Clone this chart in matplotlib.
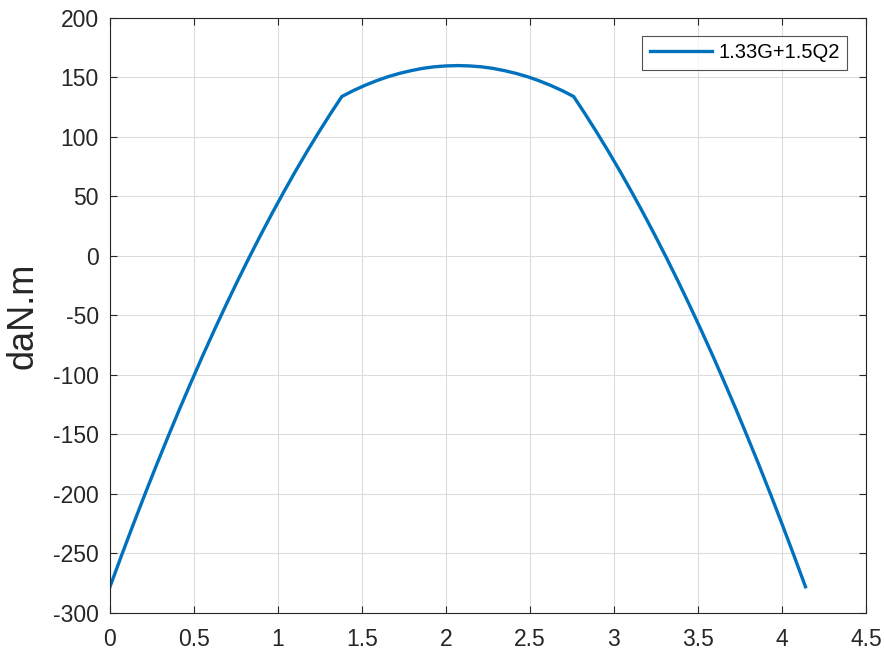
import matplotlib
matplotlib.use("Agg")
import matplotlib.pyplot as plt

# Bending moment along the beam, combination 1.33G+1.5Q2
x_m = [0.000, 0.069, 0.138, 0.207, 0.276, 0.345, 0.414, 0.483, 0.552, 0.621,
       0.690, 0.759, 0.828, 0.897, 0.966, 1.035, 1.104, 1.173, 1.242, 1.311,
       1.380, 1.449, 1.518, 1.587, 1.656, 1.725, 1.794, 1.863, 1.932, 2.001,
       2.070, 2.139, 2.208, 2.277, 2.346, 2.415, 2.484, 2.553, 2.622, 2.691,
       2.760, 2.829, 2.898, 2.967, 3.036, 3.105, 3.174, 3.243, 3.312, 3.381,
       3.450, 3.519, 3.588, 3.657, 3.726, 3.795, 3.864, 3.933, 4.002, 4.071,
       4.140]
moment = [-278.0, -251.6, -225.8, -200.6, -176.0, -152.1, -128.7, -106.0, -83.8, -62.3,
          -41.4, -21.1, -1.4, 17.6, 36.1, 53.9, 71.2, 87.8, 103.8, 119.2,
          134.0, 139.0, 143.4, 147.3, 150.7, 153.5, 155.8, 157.7, 159.0, 159.7,
          160.0, 159.7, 159.0, 157.7, 155.8, 153.5, 150.7, 147.3, 143.4, 139.0,
          134.0, 119.2, 103.8, 87.8, 71.2, 53.9, 36.1, 17.6, -1.4, -21.1,
          -41.4, -62.3, -83.8, -106.0, -128.7, -152.1, -176.0, -200.6, -225.8, -251.6,
          -278.0]
series_label = "1.33G+1.5Q2"
x_ticks = [0, 0.5, 1, 1.5, 2, 2.5, 3, 3.5, 4, 4.5]
x_tick_labels = ["0", "0.5", "1", "1.5", "2", "2.5", "3", "3.5", "4", "4.5"]
y_ticks = [-300, -250, -200, -150, -100, -50, 0, 50, 100, 150, 200]
y_tick_labels = ["-300", "-250", "-200", "-150", "-100", "-50", "0", "50", "100", "150", "200"]
y_label = "daN.m"

plt.rcParams["font.family"] = ["Liberation Sans", "DejaVu Sans"]

fig = plt.figure(figsize=(8.84, 6.51), dpi=100)
ax = fig.add_axes([0.1244, 0.0584, 0.8552, 0.914])

ax.plot(x_m, moment, color="#0072BD", lw=2.4, label=series_label,
        solid_joinstyle="miter")

ax.set_xlim(0, 4.5)
ax.set_ylim(-300, 200)
ax.set_xticks(x_ticks)
ax.set_xticklabels(x_tick_labels)
ax.set_yticks(y_ticks)
ax.set_yticklabels(y_tick_labels)

ax.grid(True, color="#dcdcdc", lw=0.8)
ax.set_axisbelow(True)
for s in ax.spines.values():
    s.set_color("#262626")
    s.set_linewidth(0.8)
ax.tick_params(direction="in", length=5, width=0.8, color="#262626",
               labelsize=16.5, labelcolor="#262626", top=True, right=True)
ax.tick_params(axis="x", pad=11)
ax.tick_params(axis="y", pad=8)

ax.set_ylabel(y_label, fontsize=26, color="#262626", labelpad=9)

leg = ax.legend(loc="upper right", fontsize=14.5, frameon=True, fancybox=False,
                edgecolor="#262626", handlelength=3.1, handletextpad=0.3,
                borderpad=0.38, borderaxespad=0,
                bbox_to_anchor=(0.975, 0.970))
leg.get_frame().set_linewidth(0.8)

fig.savefig("out.png", dpi=100)
